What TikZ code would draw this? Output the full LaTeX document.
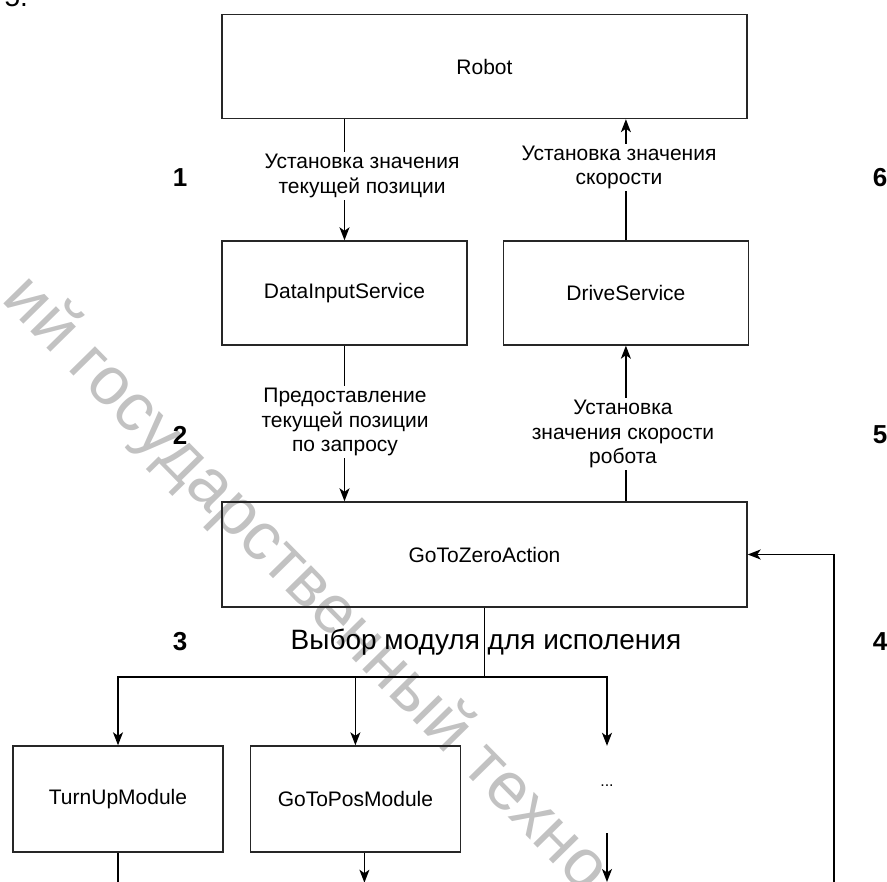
\documentclass[tikz,border=0pt]{standalone}
\usepackage{fontspec}
\setmainfont{Liberation Sans}
\usetikzlibrary{positioning,arrows.meta}

\begin{document}
\begin{tikzpicture}[x=1pt,y=-1pt,font=\fontsize{21}{24.5}\selectfont,>={Stealth[length=13pt,width=10pt,inset=3.5pt]},
  box/.style={rectangle,draw=black!85,line width=1.4pt,align=center,minimum height=104pt},
  wide/.style={box,minimum width=525pt},
  half/.style={box,minimum width=245pt},
  module/.style={box,minimum width=210pt,minimum height=106pt},
  lbl/.style={fill=white,align=center,inner sep=2pt},
  num/.style={font=\fontsize{26}{30}\selectfont\bfseries},
  ln/.style={line width=1.4pt},
  ar/.style={->,line width=1.4pt}]
\useasboundingbox (0,0) rectangle (887,882);
% watermark
\node[text=black!24,rotate=-45.5,font=\fontsize{68}{72}\selectfont](wm) at (305,585){ий государственный техно};
\node[anchor=base west,font=\fontsize{28}{30}\selectfont](prev) at (1,7){5.};
% boxes
\node[wide](robot) at (484.5,66.5){Robot};
\node[half](datain) at (344.5,293){DataInputService};
\node[half,right=35pt of datain](drive){DriveService};
\node[wide,minimum height=105pt](gtz) at (484.5,554.5){GoToZeroAction};
\node[module](turnup) at (118,799){TurnUpModule};
\node[module,right=26pt of turnup](gotopos){GoToPosModule};
\node[minimum height=87pt,text height=0pt,text depth=7pt,font=\fontsize{16}{18}\selectfont](more) at (607,789.5){...};
\coordinate(fork) at (484.5,677);
\coordinate(bot) at (0,882);
\coordinate(loop) at (834,900);
% connectors
\draw[ar](robot.south -| datain)--(datain.north);
\draw[ar](drive.north)--(drive.north |- robot.south);
\draw[ar](datain.south)--(datain.south |- gtz.north);
\draw[ar](gtz.north -| drive)--(drive.south);
\draw[ln](gtz.south)--(fork);
\draw[ar](fork)-|(turnup.north);
\draw[ar](fork)-|(gotopos.north);
\draw[ar](fork)-|(more.north);
\draw[ln](turnup.south)--++(0,40);
\draw[ar]([xshift=9pt]gotopos.south)--++(0,30);
\draw[ar](more.south)--(more.south |- bot);
\draw[ar](loop)|-(gtz.east);
% labels
\node[lbl](t1) at (362,176){Установка значения\\текущей позиции};
\node[lbl](t6) at (619,167.5){Установка значения\\скорости};
\node[lbl](t2) at (345,422){Предоставление\\текущей позиции\\по запросу};
\node[lbl](t5) at (623,434){Установка\\значения скорости\\робота};
\node[font=\fontsize{28}{32}\selectfont](t3) at (486,642){Выбор модуля для исполения};
% step numbers
\node[num](n1) at (180,178){1};
\node[num](n6) at (880,178){6};
\node[num](n2) at (180,435){2};
\node[num](n5) at (880,435){5};
\node[num](n3) at (180,642){3};
\node[num](n4) at (880,642){4};
\end{tikzpicture}
\end{document}
